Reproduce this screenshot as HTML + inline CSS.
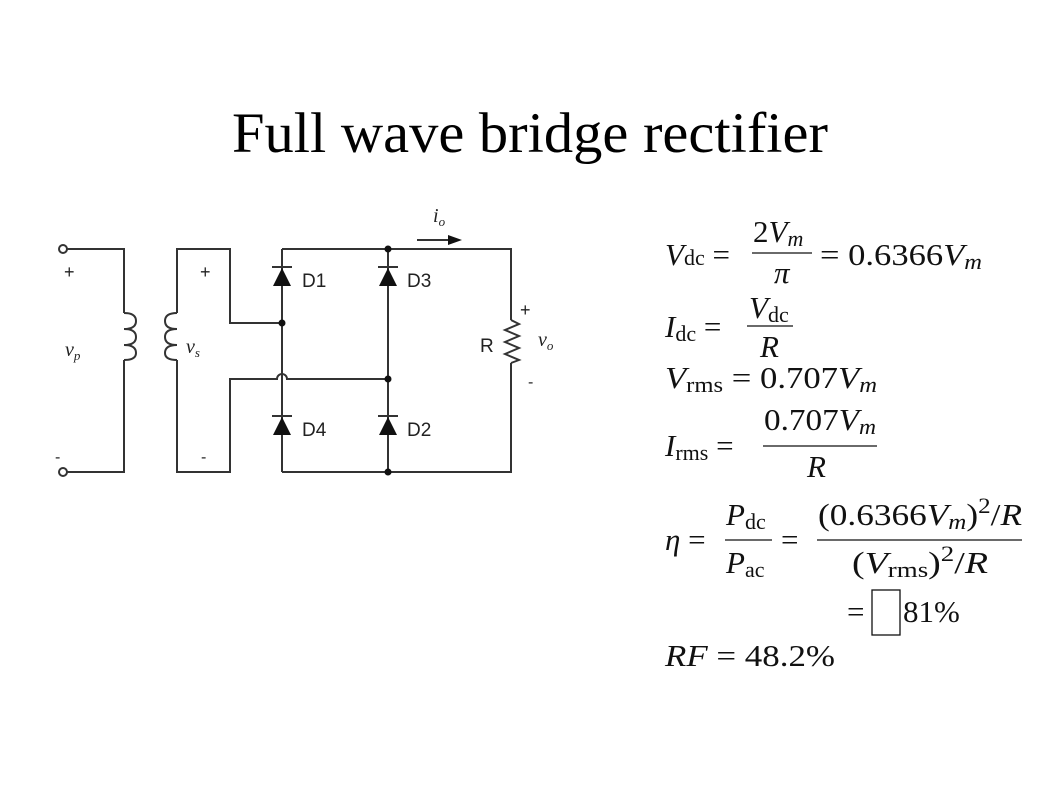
<!DOCTYPE html>
<html><head><meta charset="utf-8"><style>
html,body{margin:0;padding:0;background:#fff;}
svg{display:block}
.t{font-family:"Liberation Serif",serif;}
.s{font-family:"Liberation Sans",sans-serif;}
</style></head><body>
<svg width="1058" height="793" viewBox="0 0 1058 793" xmlns="http://www.w3.org/2000/svg">
<text x="530" y="152" text-anchor="middle" class="t" font-size="57" fill="#000" textLength="596" lengthAdjust="spacingAndGlyphs">Full wave bridge rectifier</text>

<g stroke="#333" stroke-width="2" fill="none">
 <circle cx="63" cy="249" r="4" fill="#fff"/>
 <circle cx="63" cy="472" r="4" fill="#fff"/>
 <path d="M67 249 H124 V313 M124 360 V472 H67"/>
 <path d="M124 313 q12 0 12 8 q0 8 -12 8 q12 0 12 8 q0 8 -12 8 q12 0 12 8 q0 7 -12 7"/>
 <path d="M177 313 V249 H230 V323 H282 M177 360 V472 H230 V379 H277 a5 5 0 0 1 10 0 H388"/>
 <path d="M177 313 q-12 0 -12 8 q0 8 12 8 q-12 0 -12 8 q0 8 12 8 q-12 0 -12 8 q0 7 12 7"/>
 <path d="M282 249 H511 V320 M511 363 V472 H282"/>
 <path d="M282 249 V472 M388 249 V472" />
 <path d="M272 267 H292 M272 416 H292 M378 267 H398 M378 416 H398"/>
 <path d="M511 320 l8 4 l-14 6 l14 6 l-14 6 l14 6 l-14 6 l14 6 l-8 3"/>
 <path d="M417 240 H452"/>
</g>
<g fill="#111">
 <polygon points="282,268 273,286 291,286"/>
 <polygon points="282,417 273,435 291,435"/>
 <polygon points="388,268 379,286 397,286"/>
 <polygon points="388,417 379,435 397,435"/>
 <polygon points="462,240 448,235 448,245"/>
 <circle cx="282" cy="323" r="3.5"/>
 <circle cx="388" cy="249" r="3.5"/>
 <circle cx="388" cy="379" r="3.5"/>
 <circle cx="388" cy="472" r="3.5"/>
</g>
<g class="s" font-size="19" fill="#222">
 <text x="302" y="287">D1</text><text x="407" y="287">D3</text>
 <text x="302" y="436">D4</text><text x="407" y="436">D2</text>
 <text x="480" y="352">R</text>
 <text x="64" y="278" font-size="18">+</text><text x="200" y="278" font-size="18">+</text>
 <text x="520" y="316" font-size="18">+</text>
 <text x="55" y="462" font-size="16">-</text><text x="201" y="462" font-size="16">-</text>
 <text x="528" y="387" font-size="16">-</text>
</g>
<g class="t" font-style="italic" font-size="20" fill="#222">
 <text x="65" y="356">v<tspan font-size="13" dy="4">p</tspan></text>
 <text x="186" y="353">v<tspan font-size="13" dy="4">s</tspan></text>
 <text x="538" y="346">v<tspan font-size="13" dy="4">o</tspan></text>
 <text x="433" y="222">i<tspan font-size="13" dy="4">o</tspan></text>
</g>

<g class="t" font-size="31" fill="#111">
 <text x="665" y="265"><tspan font-style="italic">V</tspan><tspan font-size="22">dc</tspan> =</text>
 <text x="753" y="242">2<tspan font-style="italic">V<tspan font-size="22" dy="4">m</tspan></tspan></text>
 <line x1="752" y1="253" x2="812" y2="253" stroke="#111" stroke-width="1.3"/>
 <text x="774" y="283" font-style="italic">π</text>
 <text x="820" y="265" textLength="162" lengthAdjust="spacingAndGlyphs">= 0.6366<tspan font-style="italic">V<tspan font-size="22" dy="4">m</tspan></tspan></text>
 <text x="665" y="337"><tspan font-style="italic">I</tspan><tspan font-size="22" dy="4">dc</tspan><tspan dy="-4"> =</tspan></text>
 <text x="749" y="318"><tspan font-style="italic">V</tspan><tspan font-size="22" dy="4">dc</tspan></text>
 <line x1="747" y1="326" x2="793" y2="326" stroke="#111" stroke-width="1.3"/>
 <text x="760" y="357" font-style="italic">R</text>
 <text x="665" y="388" textLength="212" lengthAdjust="spacingAndGlyphs"><tspan font-style="italic">V</tspan><tspan font-size="22" dy="4">rms</tspan><tspan dy="-4"> = 0.707</tspan><tspan font-style="italic">V<tspan font-size="22" dy="4">m</tspan></tspan></text>
 <text x="665" y="456"><tspan font-style="italic">I</tspan><tspan font-size="22" dy="4">rms</tspan><tspan dy="-4"> =</tspan></text>
 <text x="764" y="430" textLength="112" lengthAdjust="spacingAndGlyphs">0.707<tspan font-style="italic">V<tspan font-size="22" dy="4">m</tspan></tspan></text>
 <line x1="763" y1="446" x2="877" y2="446" stroke="#111" stroke-width="1.3"/>
 <text x="807" y="477" font-style="italic">R</text>
 <text x="665" y="550"><tspan font-style="italic">η</tspan> =</text>
 <text x="726" y="525"><tspan font-style="italic">P</tspan><tspan font-size="22" dy="4">dc</tspan></text>
 <line x1="725" y1="540" x2="772" y2="540" stroke="#111" stroke-width="1.3"/>
 <text x="726" y="573"><tspan font-style="italic">P</tspan><tspan font-size="22" dy="4">ac</tspan></text>
 <text x="781" y="550">=</text>
 <text x="818" y="525" textLength="204" lengthAdjust="spacingAndGlyphs">(0.6366<tspan font-style="italic">V<tspan font-size="22" dy="4">m</tspan></tspan><tspan dy="-4">)</tspan><tspan font-size="22" dy="-12">2</tspan><tspan dy="12">/</tspan><tspan font-style="italic">R</tspan></text>
 <line x1="817" y1="540" x2="1022" y2="540" stroke="#111" stroke-width="1.3"/>
 <text x="852" y="573" textLength="136" lengthAdjust="spacingAndGlyphs">(<tspan font-style="italic">V</tspan><tspan font-size="22" dy="4">rms</tspan><tspan dy="-4">)</tspan><tspan font-size="22" dy="-12">2</tspan><tspan dy="12">/</tspan><tspan font-style="italic">R</tspan></text>
 <text x="847" y="622">=</text>
 <rect x="872" y="590" width="28" height="45" fill="none" stroke="#111" stroke-width="1.3"/>
 <text x="903" y="622">81%</text>
 <text x="665" y="666" textLength="170" lengthAdjust="spacingAndGlyphs"><tspan font-style="italic">RF</tspan> = 48.2%</text>
</g>
</svg>
</body></html>
